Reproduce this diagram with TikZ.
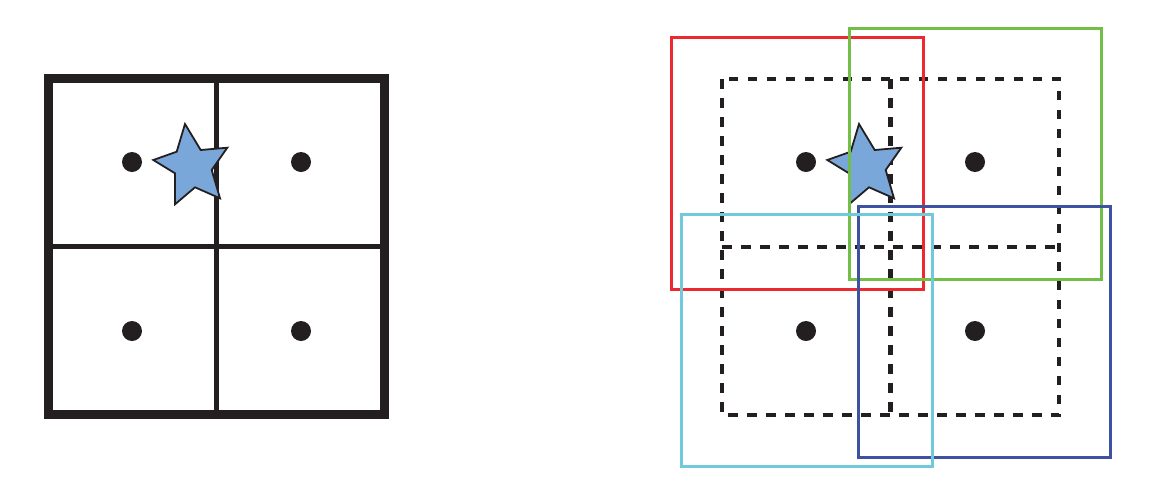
\documentclass[tikz,border=0pt]{standalone}
\begin{document}
\definecolor{ink}{RGB}{35,31,32}
\definecolor{starblue}{RGB}{122,167,218}
\definecolor{wred}{RGB}{237,40,46}
\definecolor{wgreen}{RGB}{115,190,70}
\definecolor{wcyan}{RGB}{112,202,220}
\definecolor{wblue}{RGB}{62,82,162}
\begin{tikzpicture}[x=1pt,y=-1pt,
  outer/.style={draw=ink, line width=9pt},
  inner/.style={draw=ink, line width=4.5pt},
  dashbox/.style={draw=ink, line width=4.5pt, dash pattern=on 9.5pt off 9.5pt},
  dot/.style={circle, fill=ink, inner sep=0pt, minimum size=20pt},
  win/.style={line width=3pt},
  mystar/.pic={\draw[draw=ink, fill=starblue, line width=1.8pt, line join=miter]
    (-7,-43) -- (8.7,-17) -- (35.3,-19.3) -- (19.7,3) -- (28,31.3) -- (3,20.3)
    -- (-17,37.3) -- (-17,6.3) -- (-38.7,-7) -- (-15.3,-15.3) -- cycle;}]
\useasboundingbox (0,0) rectangle (1154,496);
% left grid
\coordinate (lt) at (48,78.5);
\coordinate (rb) at (384.5,414.5);
\draw[inner] (216.3,78.5) -- (216.3,414.5);
\draw[inner] (48,246.5) -- (384.5,246.5);
\draw[outer] (lt) rectangle (rb);
\node[dot] (a1) at (132,162) {};
\node[dot] (a2) at (301,162) {};
\node[dot] (a3) at (132,331) {};
\node[dot] (a4) at (301,331) {};
\pic (s1) at (192,167) {mystar};
% right grid
\draw[dashbox] (722,79) rectangle (1059,415);
\draw[dashbox] (890.5,79) -- (890.5,415);
\draw[dashbox] (722,247) -- (1059,247);
\node[dot] (b1) at (806,162) {};
\node[dot] (b2) at (975,162) {};
\node[dot] (b3) at (806,331) {};
\node[dot] (b4) at (975,331) {};
\pic (s2) at (866,167) {mystar};
\draw[win, draw=wred] (671,37) rectangle (923,289);
\draw[win, draw=wgreen] (849,28) rectangle (1101,279);
\draw[win, draw=wblue] (858,206) rectangle (1110,457);
\draw[win, draw=wcyan] (681,214) rectangle (932,466);
\end{tikzpicture}
\end{document}
